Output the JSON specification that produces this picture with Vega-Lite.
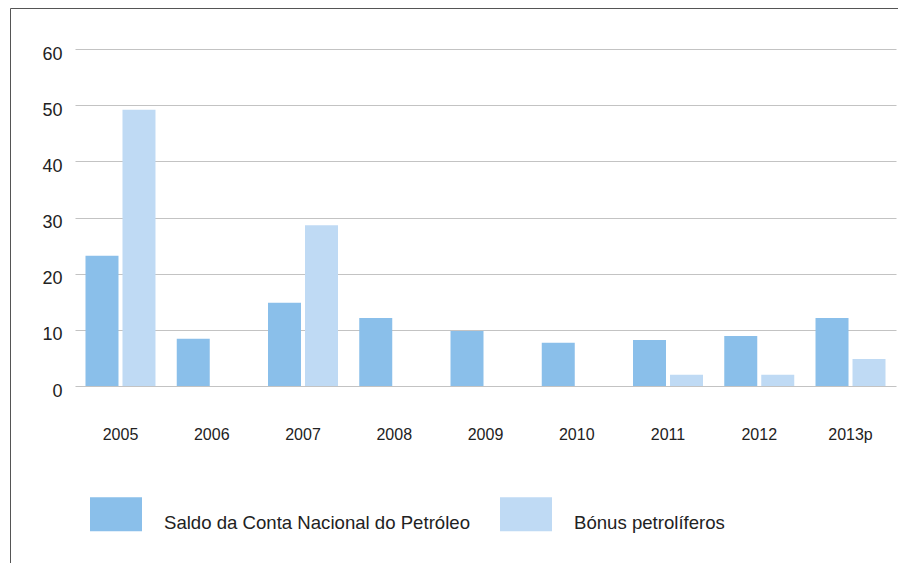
{
  "$schema": "https://vega.github.io/schema/vega-lite/v6.json",
  "width": 900,
  "height": 570,
  "autosize": {"type": "none"},
  "padding": {"left": 10, "top": 8, "right": 0, "bottom": 0},
  "background": "white",
  "config": {
    "view": {"stroke": "#555555", "strokeWidth": 1},
    "font": "Liberation Sans"
  },
  "data": {
    "values": [
      {"ano": "2005", "serie": "Saldo da Conta Nacional do Petróleo", "valor": 23.2},
      {"ano": "2005", "serie": "Bónus petrolíferos", "valor": 49.2},
      {"ano": "2006", "serie": "Saldo da Conta Nacional do Petróleo", "valor": 8.4},
      {"ano": "2006", "serie": "Bónus petrolíferos", "valor": 0},
      {"ano": "2007", "serie": "Saldo da Conta Nacional do Petróleo", "valor": 14.8},
      {"ano": "2007", "serie": "Bónus petrolíferos", "valor": 28.6},
      {"ano": "2008", "serie": "Saldo da Conta Nacional do Petróleo", "valor": 12.1},
      {"ano": "2008", "serie": "Bónus petrolíferos", "valor": 0},
      {"ano": "2009", "serie": "Saldo da Conta Nacional do Petróleo", "valor": 9.8},
      {"ano": "2009", "serie": "Bónus petrolíferos", "valor": 0},
      {"ano": "2010", "serie": "Saldo da Conta Nacional do Petróleo", "valor": 7.7},
      {"ano": "2010", "serie": "Bónus petrolíferos", "valor": 0},
      {"ano": "2011", "serie": "Saldo da Conta Nacional do Petróleo", "valor": 8.2},
      {"ano": "2011", "serie": "Bónus petrolíferos", "valor": 2.0},
      {"ano": "2012", "serie": "Saldo da Conta Nacional do Petróleo", "valor": 8.9},
      {"ano": "2012", "serie": "Bónus petrolíferos", "valor": 2.0},
      {"ano": "2013p", "serie": "Saldo da Conta Nacional do Petróleo", "valor": 12.1},
      {"ano": "2013p", "serie": "Bónus petrolíferos", "valor": 4.8}
    ]
  },
  "mark": {"type": "bar"},
  "encoding": {
    "x": {
      "field": "ano",
      "type": "nominal",
      "sort": null,
      "scale": {"range": [65, 886], "paddingInner": 0.233, "paddingOuter": 0.115},
      "axis": {
        "title": null,
        "orient": "bottom",
        "offset": -192,
        "domain": false,
        "ticks": false,
        "grid": false,
        "labelAngle": 0,
        "labelPadding": 40,
        "labelFontSize": 16,
        "labelColor": "#222222",
        "labelFont": "Liberation Sans"
      }
    },
    "xOffset": {
      "field": "serie",
      "type": "nominal",
      "sort": ["Saldo da Conta Nacional do Petróleo", "Bónus petrolíferos"],
      "scale": {"paddingInner": 0.108, "paddingOuter": 0}
    },
    "y": {
      "field": "valor",
      "type": "quantitative",
      "scale": {"domain": [0, 60], "range": [378, 41], "nice": false, "zero": true},
      "axis": {
        "title": null,
        "orient": "left",
        "offset": -65,
        "values": [0, 10, 20, 30, 40, 50, 60],
        "domain": false,
        "ticks": false,
        "grid": true,
        "gridColor": "#c3c3c3",
        "gridWidth": 1,
        "labelPadding": 13,
        "labelOffset": 5,
        "labelFontSize": 18,
        "labelColor": "#222222",
        "labelFont": "Liberation Sans"
      }
    },
    "color": {
      "field": "serie",
      "type": "nominal",
      "sort": ["Saldo da Conta Nacional do Petróleo", "Bónus petrolíferos"],
      "scale": {
        "domain": ["Saldo da Conta Nacional do Petróleo", "Bónus petrolíferos"],
        "range": ["#8abfea", "#bfdaf4"]
      },
      "legend": {
        "title": null,
        "orient": "none",
        "legendX": 80,
        "legendY": 480,
        "direction": "horizontal",
        "padding": 0,
        "symbolType": "M-1,-0.654H1V0.654H-1Z",
        "symbolSize": 2704,
        "symbolStrokeWidth": 0,
        "symbolOpacity": 1,
        "labelOffset": 22,
        "columnPadding": 30,
        "labelFontSize": 18.6,
        "labelColor": "#222222",
        "labelFont": "Liberation Sans",
        "labelBaseline": "top",
        "labelLimit": 500
      }
    }
  }
}
